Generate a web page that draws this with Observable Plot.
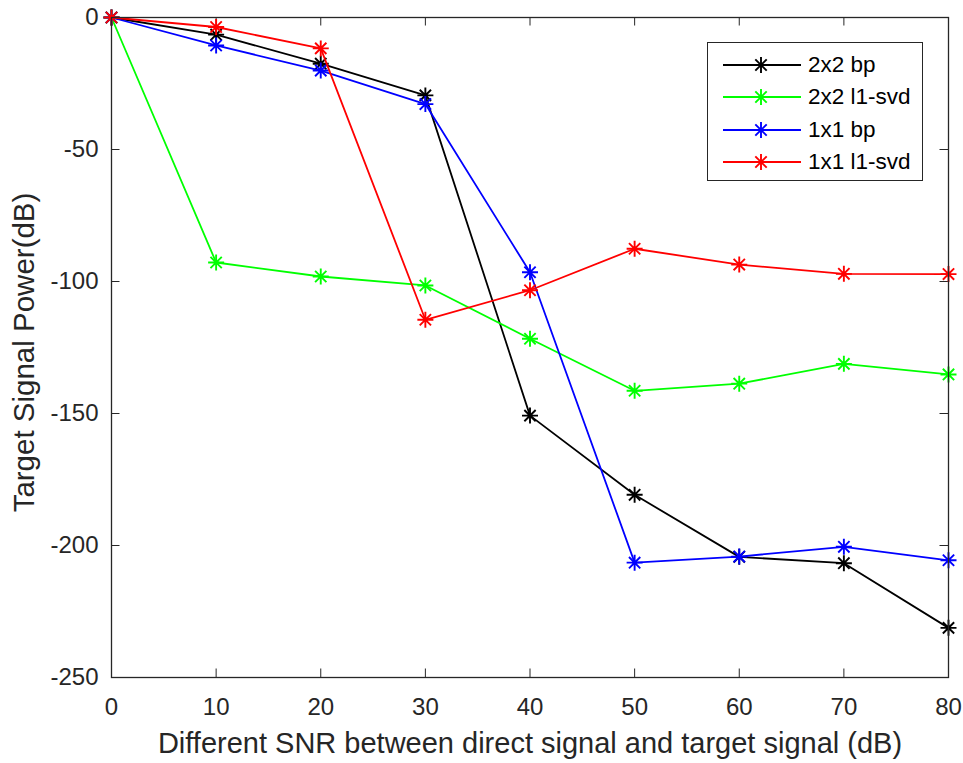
<!DOCTYPE html>
<html>
<head>
<meta charset="utf-8">
<script src="https://cdn.jsdelivr.net/npm/d3@7"></script>
<script src="https://cdn.jsdelivr.net/npm/@observablehq/plot@0.6"></script>
<style>
  body { margin: 0; background: #fff; font-family: "Liberation Sans", Arial, sans-serif; }
  #wrap { position: relative; width: 963px; height: 763px; }
  .legend { position: absolute; left: 707px; top: 42px; width: 214px; height: 137px;
            border: 1px solid #262626; background: #fff; }
  .legend .row { position: absolute; left: 0; height: 32px; display: flex; align-items: center; }
  .legend .row span { font-size: 22.5px; color: #000; margin-left: 0; }
</style>
</head>
<body>
<div id="wrap"></div>
<script>
// SNR difference between direct and target signal (dB)
const snr = [0, 10, 20, 30, 40, 50, 60, 70, 80];

// Series names and line colours
const seriesNames = ["2x2 bp", "2x2 l1-svd", "1x1 bp", "1x1 l1-svd"];
const seriesColors = ["#000000", "#00ff00", "#0000ff", "#ff0000"];

// Residual target signal power (dB) per method
const bp2x2    = [0, -6.5, -17.5, -29.5, -150.8, -180.8, -204.3, -206.7, -231.2];
const l1svd2x2 = [0, -92.8, -98.1, -101.5, -121.7, -141.4, -138.7, -131.2, -135.2];
const bp1x1    = [0, -10.6, -20.1, -32.8, -96.5, -206.5, -204.2, -200.5, -205.6];
const l1svd1x1 = [0, -3.6, -11.7, -114.5, -103.3, -87.6, -93.6, -97.1, -97.2];

// Axis ticks and labels
const xTicks = [0, 10, 20, 30, 40, 50, 60, 70, 80];
const yTicks = [0, -50, -100, -150, -200, -250];
const xLabel = "Different SNR between direct signal and target signal (dB)";
const yLabel = "Target Signal Power(dB)";

const seriesValues = [bp2x2, l1svd2x2, bp1x1, l1svd1x1];
const rows = seriesNames.flatMap((name, i) =>
  snr.map((x, j) => ({ series: name, snr: x, power: seriesValues[i][j] })));

// Eight-armed asterisk marker
const asterisk = {
  draw(ctx, size) {
    const r = Math.sqrt(size / Math.PI);
    const d = r * Math.SQRT1_2;
    ctx.moveTo(-r, 0); ctx.lineTo(r, 0);
    ctx.moveTo(0, -r); ctx.lineTo(0, r);
    ctx.moveTo(-d, -d); ctx.lineTo(d, d);
    ctx.moveTo(-d, d); ctx.lineTo(d, -d);
  }
};

const W = 963, H = 763, mL = 111, mR = 15, mT = 17, mB = 86;
const plotW = W - mL - mR, plotH = H - mT - mB;
const tickLen = 8.5;
const ink = "#262626";
const font = '"Liberation Sans", Arial, sans-serif';

const chart = Plot.plot({
  width: W, height: H,
  marginLeft: mL, marginRight: mR, marginTop: mT, marginBottom: mB,
  style: { fontFamily: font, background: "#fff", color: ink, overflow: "visible" },
  x: { domain: [0, 80] },
  y: { domain: [-250, 0] },
  color: { domain: seriesNames, range: seriesColors },
  marks: [
    // inward ticks on all four sides
    Plot.tickX(xTicks, { x: d => d, stroke: ink, insetTop: plotH - tickLen }),
    Plot.tickX(xTicks, { x: d => d, stroke: ink, insetBottom: plotH - tickLen }),
    Plot.tickY(yTicks, { y: d => d, stroke: ink, insetRight: plotW - tickLen }),
    Plot.tickY(yTicks, { y: d => d, stroke: ink, insetLeft: plotW - tickLen }),
    Plot.axisX(xTicks, { tickSize: 0, tickPadding: 20, fontSize: 24, label: null, fill: ink, tickFormat: d => String(d) }),
    Plot.axisY(yTicks, { tickSize: 0, tickPadding: 13, fontSize: 24, label: null, fill: ink, tickFormat: d => String(d) }),
    Plot.text([xLabel], { text: d => d, frameAnchor: "bottom", textAnchor: "middle", lineAnchor: "middle", dy: 66, fontSize: 29, fill: ink }),
    Plot.text([yLabel], { text: d => d, frameAnchor: "left", textAnchor: "middle", lineAnchor: "middle", rotate: -90, dx: -87, dy: 5, fontSize: 29.5, fill: ink }),
    // one line + markers per series, drawn in legend order
    ...seriesNames.flatMap(name => {
      const d = rows.filter(r => r.series === name);
      return [
        Plot.line(d, { x: "snr", y: "power", stroke: "series", strokeWidth: 1.8 }),
        Plot.dot(d, { x: "snr", y: "power", stroke: "series", symbol: asterisk, r: 8, strokeWidth: 1.9, fill: "none" })
      ];
    }),
    Plot.frame({ stroke: ink, strokeWidth: 1.3 })
  ]
});

const wrap = document.getElementById("wrap");
wrap.appendChild(chart);

// Legend box inside the axes
const legend = document.createElement("div");
legend.className = "legend";
seriesNames.forEach((name, i) => {
  const row = document.createElement("div");
  row.className = "row";
  row.style.top = (6 + i * 32.3) + "px";
  const c = seriesColors[i];
  row.innerHTML =
    `<svg width="100" height="32" style="display:block">
       <line x1="15" x2="93" y1="16" y2="16" stroke="${c}" stroke-width="1.8"/>
       <g transform="translate(53,16)" stroke="${c}" stroke-width="1.9">
         <line x1="-8" x2="8" y1="0" y2="0"/><line x1="0" x2="0" y1="-8" y2="8"/>
         <line x1="-5.7" x2="5.7" y1="-5.7" y2="5.7"/><line x1="-5.7" x2="5.7" y1="5.7" y2="-5.7"/>
       </g>
     </svg><span>${name}</span>`;
  legend.appendChild(row);
});
wrap.appendChild(legend);
</script>
</body>
</html>
